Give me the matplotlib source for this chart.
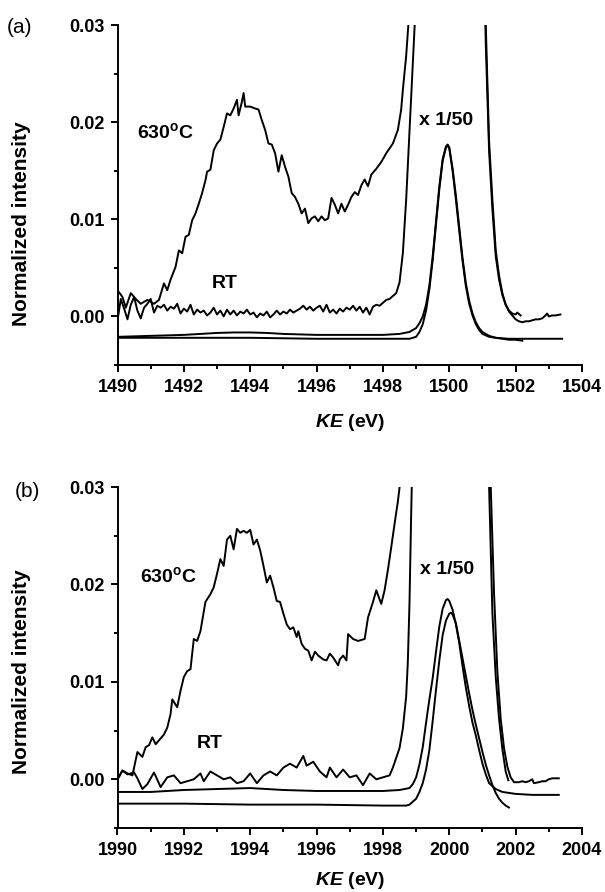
import matplotlib
matplotlib.use('Agg')
import matplotlib.pyplot as plt
from matplotlib.ticker import MultipleLocator, FormatStrFormatter

plt.rcParams['font.family'] = ['Liberation Sans', 'DejaVu Sans']
plt.rcParams['font.weight'] = 'bold'
plt.rcParams['mathtext.fontset'] = 'custom'
plt.rcParams['mathtext.rm'] = 'Liberation Sans'
plt.rcParams['mathtext.it'] = 'Liberation Sans:italic:bold'
plt.rcParams['mathtext.bf'] = 'Liberation Sans:bold'

# ---------------- panel (a) : 1500 eV ----------------
a_ke_630 = [1490.0, 1490.15, 1490.25, 1490.4, 1490.55, 1490.7, 1490.9, 1491.1, 1491.25, 1491.4,
            1491.5, 1491.6, 1491.75, 1491.85, 1491.95, 1492.05, 1492.15, 1492.25, 1492.35, 1492.45,
            1492.55, 1492.65, 1492.7, 1492.8, 1492.9, 1493.0, 1493.1, 1493.2, 1493.3, 1493.4,
            1493.5, 1493.6, 1493.65, 1493.75, 1493.8, 1493.85, 1494.0, 1494.15, 1494.25, 1494.35,
            1494.45, 1494.55, 1494.65, 1494.75, 1494.85, 1494.95, 1495.05, 1495.15, 1495.25, 1495.35,
            1495.45, 1495.55, 1495.65, 1495.75, 1495.85, 1495.95, 1496.05, 1496.15, 1496.25, 1496.35,
            1496.45, 1496.55, 1496.65, 1496.75, 1496.85, 1496.95, 1497.05, 1497.15, 1497.25, 1497.35,
            1497.45, 1497.55, 1497.65, 1497.8, 1497.95, 1498.1, 1498.3, 1498.45, 1498.55, 1498.6,
            1498.7, 1498.77, 1498.9, 1499.2, 1499.5, 1500.0, 1500.5, 1500.8, 1501.0, 1501.1,
            1501.2, 1501.3, 1501.4, 1501.5, 1501.6, 1501.7, 1501.8, 1501.9, 1502.0, 1502.1,
            1502.2, 1502.3, 1502.4, 1502.5, 1502.6, 1502.7, 1502.8, 1502.9, 1502.95, 1503.0,
            1503.1, 1503.2, 1503.35]
a_int_630 = [0.0027, 0.0020, 0.0009, 0.0024, 0.0018, 0.0013, 0.0017, 0.0013, 0.0017, 0.0034,
             0.0027, 0.0038, 0.0051, 0.0068, 0.0065, 0.0082, 0.0084, 0.0099, 0.0106, 0.0116,
             0.0127, 0.0140, 0.0149, 0.0151, 0.0171, 0.0178, 0.0182, 0.0195, 0.0209, 0.0207,
             0.0214, 0.0223, 0.0207, 0.0221, 0.0230, 0.0216, 0.0216, 0.0214, 0.0213, 0.0202,
             0.0192, 0.0178, 0.0177, 0.0168, 0.0149, 0.0166, 0.0154, 0.0144, 0.0127, 0.0123,
             0.0116, 0.0106, 0.0111, 0.0096, 0.0101, 0.0103, 0.0098, 0.0103, 0.0099, 0.0101,
             0.0122, 0.0115, 0.0106, 0.0116, 0.0108, 0.0115, 0.0123, 0.0128, 0.0125, 0.0135,
             0.0141, 0.0134, 0.0146, 0.0152, 0.0159, 0.0168, 0.0178, 0.0192, 0.0213, 0.0233,
             0.0268, 0.0302, 0.060, 0.20, 0.50, 0.98, 0.50, 0.13, 0.050, 0.030,
             0.018, 0.012, 0.0068, 0.0042, 0.0024, 0.0012, 0.0005, 0.0001, -0.0003, -0.0005,
             -0.0006, -0.0005, -0.0005, -0.0004, -0.0003, -0.0003, -0.0002, 0.0001, 0.0003, 0.0000,
             0.0001, 0.0001, 0.0002]

a_ke_rt = [1490.0, 1490.1, 1490.2, 1490.3, 1490.4, 1490.5, 1490.6, 1490.7, 1490.8, 1490.9,
           1491.0, 1491.1, 1491.2, 1491.3, 1491.4, 1491.5, 1491.6, 1491.7, 1491.8, 1491.9,
           1492.0, 1492.1, 1492.2, 1492.3, 1492.4, 1492.5, 1492.6, 1492.7, 1492.8, 1492.9,
           1493.0, 1493.1, 1493.2, 1493.3, 1493.4, 1493.5, 1493.6, 1493.7, 1493.8, 1493.9,
           1494.0, 1494.1, 1494.2, 1494.3, 1494.4, 1494.5, 1494.6, 1494.7, 1494.8, 1494.9,
           1495.0, 1495.1, 1495.2, 1495.3, 1495.4, 1495.5, 1495.6, 1495.7, 1495.8, 1495.9,
           1496.0, 1496.1, 1496.2, 1496.3, 1496.4, 1496.5, 1496.6, 1496.7, 1496.8, 1496.9,
           1497.0, 1497.1, 1497.2, 1497.3, 1497.4, 1497.5, 1497.6, 1497.7, 1497.8, 1497.9,
           1498.0, 1498.1, 1498.2, 1498.3, 1498.4, 1498.5, 1498.6, 1498.7, 1498.8, 1498.9,
           1499.0, 1499.2, 1499.5, 1500.0, 1500.5, 1500.8, 1501.0, 1501.1, 1501.2, 1501.3,
           1501.4, 1501.5, 1501.6, 1501.7, 1501.8, 1501.9, 1502.0, 1502.05, 1502.15]
a_int_rt = [-0.0004, 0.0018, 0.0008, -0.0003, 0.0012, 0.0020, 0.0006, -0.0002, 0.0009, 0.0013,
            0.0018, 0.0004, 0.0011, 0.0009, 0.0012, 0.0006, 0.0010, 0.0008, 0.0013, 0.0003,
            0.0008, 0.0005, 0.0012, 0.0002, 0.0007, 0.0004, 0.0006, 0.0001, 0.0004, 0.0009,
            0.0002, 0.0006, 0.0000, 0.0007, 0.0002, 0.0006, 0.0001, 0.0005, 0.0003, 0.0007,
            0.0002, 0.0004, -0.0001, 0.0003, 0.0001, 0.0005, -0.0001, 0.0002, 0.0006, 0.0002,
            0.0005, 0.0003, 0.0007, 0.0004, 0.0006, 0.0008, 0.0011, 0.0007, 0.0010, 0.0006,
            0.0009, 0.0011, 0.0005, 0.0012, 0.0004, 0.0007, 0.0003, 0.0008, 0.0005, 0.0009,
            0.0007, 0.0011, 0.0006, 0.0010, 0.0004, 0.0009, 0.0002, 0.0010, 0.0012, 0.0011,
            0.0014, 0.0017, 0.0018, 0.0021, 0.0024, 0.0035, 0.0065, 0.0120, 0.0190, 0.0260,
            0.0330, 0.10, 0.45, 0.98, 0.45, 0.12, 0.045, 0.028, 0.017, 0.011,
            0.0062, 0.0038, 0.0022, 0.0012, 0.0006, 0.0003, 0.0002, 0.0004, 0.0001]

# x 1/50 spectra (offset)
a_ke_630s = [1490.0, 1491.0, 1492.0, 1493.0, 1493.5, 1494.0, 1494.5, 1495.0, 1496.0, 1497.0,
             1498.0, 1498.5, 1498.8, 1499.0, 1499.1, 1499.2, 1499.3, 1499.4, 1499.5, 1499.6,
             1499.7, 1499.8, 1499.9, 1499.95, 1500.0, 1500.1, 1500.2, 1500.3, 1500.4, 1500.5,
             1500.6, 1500.7, 1500.8, 1500.9, 1501.0, 1501.2, 1501.4, 1501.6, 1501.8, 1502.0,
             1502.2]
a_int_630s = [-0.0021, -0.0020, -0.0019, -0.0017, -0.00165, -0.00165, -0.0017, -0.0018, -0.0019, -0.0019,
              -0.0019, -0.0018, -0.0016, -0.0012, -0.0007, 0.0000, 0.0012, 0.0032, 0.0062, 0.0098,
              0.0134, 0.0162, 0.0175, 0.0177, 0.0174, 0.0152, 0.0124, 0.0092, 0.0060, 0.0034,
              0.0016, 0.0003, -0.0006, -0.0012, -0.0016, -0.0020, -0.0022, -0.0023, -0.0024, -0.0024,
              -0.0025]

a_ke_rts = [1490.0, 1492.0, 1494.0, 1496.0, 1498.0, 1498.8, 1499.0, 1499.1, 1499.2, 1499.3,
            1499.4, 1499.5, 1499.6, 1499.7, 1499.8, 1499.9, 1499.95, 1500.0, 1500.1, 1500.2,
            1500.3, 1500.4, 1500.5, 1500.6, 1500.7, 1500.8, 1500.9, 1501.0, 1501.2, 1501.4,
            1501.8, 1502.5, 1503.4]
a_int_rts = [-0.0022, -0.0022, -0.0022, -0.0023, -0.0023, -0.0023, -0.0021, -0.0016, -0.0008, 0.0006,
             0.0028, 0.0058, 0.0095, 0.0131, 0.0160, 0.0174, 0.0176, 0.0173, 0.0150, 0.0120,
             0.0088, 0.0057, 0.0031, 0.0013, 0.0001, -0.0008, -0.0014, -0.0018, -0.0021, -0.0022,
             -0.0023, -0.0023, -0.0023]

# ---------------- panel (b) : 2000 eV ----------------
b_ke_630 = [1990.0, 1990.15, 1990.3, 1990.45, 1990.6, 1990.75, 1990.85, 1990.95, 1991.05, 1991.15,
            1991.25, 1991.4, 1991.5, 1991.6, 1991.65, 1991.8, 1991.9, 1992.0, 1992.1, 1992.2,
            1992.3, 1992.4, 1992.5, 1992.65, 1992.8, 1992.9, 1993.0, 1993.1, 1993.2, 1993.3,
            1993.4, 1993.5, 1993.6, 1993.7, 1993.8, 1993.9, 1994.0, 1994.1, 1994.2, 1994.3,
            1994.4, 1994.5, 1994.6, 1994.7, 1994.8, 1994.9, 1995.0, 1995.1, 1995.2, 1995.3,
            1995.4, 1995.45, 1995.55, 1995.65, 1995.75, 1995.85, 1995.95, 1996.05, 1996.2, 1996.3,
            1996.4, 1996.5, 1996.65, 1996.7, 1996.8, 1996.9, 1996.95, 1997.1, 1997.25, 1997.45,
            1997.55, 1997.7, 1997.8, 1997.95, 1998.05, 1998.15, 1998.25, 1998.35, 1998.45, 1998.52,
            1998.7, 1999.0, 1999.5, 2000.0, 2000.5, 2000.9, 2001.1, 2001.2, 2001.3, 2001.4,
            2001.5, 2001.6, 2001.7, 2001.78]
b_int_630 = [0.0000, 0.0009, 0.0006, 0.0004, 0.0028, 0.0023, 0.0033, 0.0035, 0.0043, 0.0036,
             0.0040, 0.0046, 0.0053, 0.0067, 0.0082, 0.0074, 0.0091, 0.0105, 0.0111, 0.0113,
             0.0144, 0.0142, 0.0152, 0.0182, 0.0190, 0.0197, 0.0211, 0.0226, 0.0219, 0.0246,
             0.0250, 0.0236, 0.0257, 0.0253, 0.0255, 0.0253, 0.0256, 0.0241, 0.0246, 0.0235,
             0.0219, 0.0202, 0.0209, 0.0197, 0.0183, 0.0182, 0.0170, 0.0159, 0.0154, 0.0156,
             0.0146, 0.0152, 0.0139, 0.0134, 0.0132, 0.0122, 0.0131, 0.0127, 0.0123, 0.0122,
             0.0129, 0.0125, 0.0117, 0.0123, 0.0127, 0.0122, 0.0149, 0.0144, 0.0142, 0.0144,
             0.0166, 0.0182, 0.0194, 0.0180, 0.0194, 0.0215, 0.0238, 0.0262, 0.0285, 0.0305,
             0.060, 0.20, 0.60, 0.95, 0.50, 0.12, 0.045, 0.030, 0.017, 0.0105,
             0.0062, 0.0031, 0.0008, -0.0001]

b_ke_rt = [1990.0, 1990.15, 1990.3, 1990.5, 1990.6, 1990.75, 1990.9, 1991.1, 1991.3, 1991.5,
           1991.7, 1991.9, 1992.1, 1992.3, 1992.5, 1992.6, 1992.8, 1993.0, 1993.2, 1993.4,
           1993.6, 1993.8, 1994.0, 1994.2, 1994.4, 1994.6, 1994.8, 1995.0, 1995.2, 1995.4,
           1995.6, 1995.7, 1995.9, 1996.1, 1996.3, 1996.4, 1996.6, 1996.8, 1997.0, 1997.2,
           1997.4, 1997.6, 1997.8, 1998.0, 1998.2, 1998.3, 1998.4, 1998.5, 1998.6, 1998.7,
           1998.75, 1998.8, 1998.85, 1998.9, 1999.2, 1999.6, 2000.0, 2000.5, 2000.9, 2001.1,
           2001.25, 2001.35, 2001.45, 2001.55, 2001.65, 2001.75, 2001.85, 2001.95, 2002.1, 2002.2,
           2002.3, 2002.4, 2002.5, 2002.55, 2002.7, 2002.8, 2002.9, 2003.0, 2003.1, 2003.3]
b_int_rt = [0.0000, 0.0009, 0.0005, 0.0007, 0.0001, -0.0010, -0.0005, 0.0007, -0.0008, 0.0002,
            0.0004, -0.0004, -0.0002, 0.0000, 0.0006, -0.0002, 0.0008, 0.0004, 0.0000, 0.0002,
            -0.0004, -0.0002, 0.0006, -0.0004, 0.0004, 0.0008, 0.0004, 0.0012, 0.0016, 0.0012,
            0.0024, 0.0014, 0.0018, 0.0008, 0.0002, 0.0012, 0.0002, 0.0010, 0.0002, 0.0004,
            -0.0006, 0.0006, 0.0000, 0.0002, 0.0004, 0.0012, 0.0022, 0.0032, 0.0052, 0.0085,
            0.0120, 0.0180, 0.0270, 0.035, 0.12, 0.60, 0.95, 0.50, 0.12, 0.050,
            0.030, 0.019, 0.011, 0.0062, 0.0032, 0.0013, 0.0002, -0.0003, -0.0003, -0.0002,
            -0.0003, -0.0002, 0.0000, -0.0004, -0.0003, -0.0002, -0.0002, 0.0000, 0.0001, 0.0001]

b_ke_630s = [1990.0, 1991.0, 1992.0, 1993.0, 1994.0, 1995.0, 1996.0, 1997.0, 1998.0, 1998.5,
             1998.8, 1998.9, 1999.0, 1999.1, 1999.2, 1999.3, 1999.4, 1999.5, 1999.6, 1999.7,
             1999.8, 1999.9, 1999.95, 2000.0, 2000.1, 2000.2, 2000.3, 2000.4, 2000.5, 2000.6,
             2000.7, 2000.8, 2000.9, 2001.0, 2001.1, 2001.2, 2001.4, 2001.6, 2002.0, 2002.5,
             2003.3]
b_int_630s = [-0.0013, -0.0013, -0.0011, -0.0010, -0.0009, -0.0011, -0.0012, -0.0012, -0.0012, -0.0011,
              -0.0009, -0.0005, 0.0002, 0.0015, 0.0033, 0.0058, 0.0082, 0.0104, 0.0131, 0.0157,
              0.0175, 0.0184, 0.0185, 0.0183, 0.0174, 0.0159, 0.0140, 0.0116, 0.0094, 0.0075,
              0.0058, 0.0045, 0.0030, 0.0016, 0.0005, -0.0004, -0.0010, -0.0013, -0.0015, -0.0016,
              -0.0016]

b_ke_rts = [1990.0, 1992.0, 1994.0, 1996.0, 1998.0, 1998.7, 1998.8, 1999.0, 1999.1, 1999.2,
            1999.3, 1999.4, 1999.5, 1999.6, 1999.7, 1999.8, 1999.9, 2000.0, 2000.05, 2000.1,
            2000.2, 2000.3, 2000.4, 2000.5, 2000.6, 2000.7, 2000.8, 2000.9, 2001.0, 2001.1,
            2001.2, 2001.3, 2001.4, 2001.5, 2001.6, 2001.7, 2001.8]
b_int_rts = [-0.0025, -0.0025, -0.0026, -0.0026, -0.0027, -0.0027, -0.0026, -0.0020, -0.0013, -0.0004,
             0.0010, 0.0030, 0.0060, 0.0092, 0.0122, 0.0148, 0.0163, 0.0170, 0.0171, 0.0169,
             0.0160, 0.0142, 0.0124, 0.0106, 0.0088, 0.0071, 0.0056, 0.0042, 0.0028, 0.0015,
             0.0004, -0.0006, -0.0014, -0.0020, -0.0024, -0.0027, -0.0029]


def style_axes(ax, x0):
    ax.set_xlim(x0, x0 + 14)
    ax.set_ylim(-0.005, 0.03)
    ax.spines['top'].set_visible(False)
    ax.spines['right'].set_visible(False)
    ax.spines['left'].set_linewidth(1.4)
    ax.spines['bottom'].set_linewidth(1.4)
    ax.set_xticks(range(x0, x0 + 15, 2))
    ax.xaxis.set_minor_locator(MultipleLocator(1))
    ax.set_yticks([0.0, 0.01, 0.02, 0.03])
    ax.yaxis.set_minor_locator(MultipleLocator(0.005))
    ax.yaxis.set_major_formatter(FormatStrFormatter('%.2f'))
    ax.tick_params(which='major', direction='out', length=5, width=1.4, labelsize=13)
    ax.tick_params(which='minor', direction='out', length=3, width=1.4)
    ax.tick_params(axis='x', which='major', pad=5)
    ax.tick_params(axis='y', which='major', pad=4)
    ax.set_ylabel('Normalized intensity', fontsize=15, fontweight='bold')
    ax.set_xlabel(r'$\mathit{KE}$ (eV)', fontsize=14, fontweight='bold')


fig = plt.figure(figsize=(6.05, 8.92), dpi=100)
ax1 = fig.add_axes([117.5 / 605, 1 - 365 / 892, 464.5 / 605, 340 / 892])
ax2 = fig.add_axes([117.5 / 605, 1 - 828 / 892, 464.5 / 605, 341 / 892])

lw = 1.4
ax1.plot(a_ke_630, a_int_630, color='k', lw=lw)
ax1.plot(a_ke_rt, a_int_rt, color='k', lw=lw)
ax1.plot(a_ke_630s, a_int_630s, color='k', lw=lw)
ax1.plot(a_ke_rts, a_int_rts, color='k', lw=lw)
style_axes(ax1, 1490)
ax1.text(1490.6, 0.0184, r'630$^{\mathrm{o}}$C', fontsize=14, fontweight='bold', ha='left', va='baseline')
ax1.text(1492.83, 0.0029, 'RT', fontsize=14, fontweight='bold', ha='left', va='baseline')
ax1.text(1499.09, 0.0197, 'x 1/50', fontsize=14, fontweight='bold', ha='left', va='baseline')
ax1.yaxis.set_label_coords(-0.186, 0.415)
ax1.xaxis.set_label_coords(0.5, -0.138)

ax2.plot(b_ke_630, b_int_630, color='k', lw=lw)
ax2.plot(b_ke_rt, b_int_rt, color='k', lw=lw)
ax2.plot(b_ke_630s, b_int_630s, color='k', lw=lw)
ax2.plot(b_ke_rts, b_int_rts, color='k', lw=lw)
style_axes(ax2, 1990)
ax2.text(1990.68, 0.0202, r'630$^{\mathrm{o}}$C', fontsize=14, fontweight='bold', ha='left', va='baseline')
ax2.text(1992.4, 0.00325, 'RT', fontsize=14, fontweight='bold', ha='left', va='baseline')
ax2.text(1999.11, 0.0211, 'x 1/50', fontsize=14, fontweight='bold', ha='left', va='baseline')
ax2.yaxis.set_label_coords(-0.186, 0.457)
ax2.xaxis.set_label_coords(0.5, -0.123)

fig.text(7 / 605, 1 - 33 / 892, '(a)', fontsize=15, fontweight='normal', ha='left', va='baseline')
fig.text(15 / 605, 1 - 497 / 892, '(b)', fontsize=15, fontweight='normal', ha='left', va='baseline')

fig.savefig('out.png', dpi=100)
